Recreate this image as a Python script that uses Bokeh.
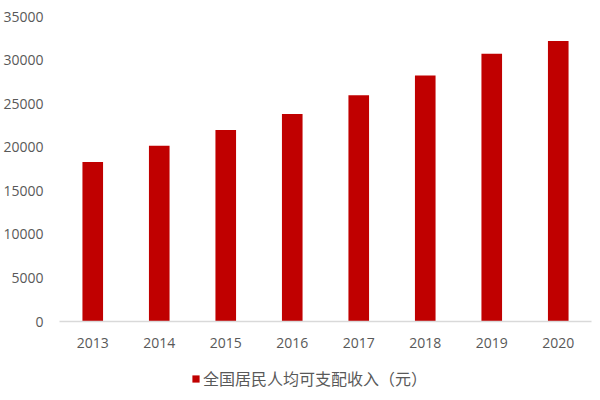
from bokeh.plotting import figure
from bokeh.layouts import column
from bokeh.models import ColumnDataSource, Legend, LegendItem, FixedTicker, Range1d, FactorRange
from bokeh.embed import file_html
from bokeh.resources import INLINE

years = ["2013", "2014", "2015", "2016", "2017", "2018", "2019", "2020"]
income = [18311, 20167, 21966, 23821, 25974, 28228, 30733, 32189]
series_name = "全国居民人均可支配收入（元）"
y_ticks = [0, 5000, 10000, 15000, 20000, 25000, 30000, 35000]

BAR = "#C00000"
TXT = "#595959"

src = ColumnDataSource(dict(year=years, income=income))

p = figure(width=592, height=360, x_range=FactorRange(*years, range_padding=0),
           y_range=Range1d(0, 35000), output_backend="svg", toolbar_location=None,
           min_border_left=55, min_border_right=1, min_border_top=16, min_border_bottom=39)
p.vbar(x="year", top="income", width=0.31, source=src, color=BAR, line_color=None)

p.xgrid.visible = False
p.ygrid.visible = False
p.outline_line_color = None

p.yaxis.ticker = FixedTicker(ticks=y_ticks)
p.yaxis.axis_line_color = None
p.yaxis.major_tick_line_color = None
p.yaxis.minor_tick_line_color = None
p.yaxis.major_label_standoff = 10
p.yaxis.major_label_text_font = "Open Sans"
p.yaxis.major_label_text_font_size = "14px"
p.yaxis.major_label_text_color = TXT

p.xaxis.axis_line_color = "#d9d9d9"
p.xaxis.axis_line_width = 1.5
p.xaxis.major_tick_line_color = None
p.xaxis.minor_tick_line_color = None
p.xaxis.major_label_standoff = 10
p.xaxis.major_label_text_font = "Open Sans"
p.xaxis.major_label_text_font_size = "14px"
p.xaxis.major_label_text_color = TXT

# legend strip below the chart
lg = figure(width=592, height=32, x_range=p.x_range, y_range=Range1d(100000, 200000),
            output_backend="svg", toolbar_location=None,
            x_axis_location=None, y_axis_location=None,
            min_border_left=0, min_border_right=0, min_border_top=0, min_border_bottom=0)
lg.xgrid.visible = False
lg.ygrid.visible = False
lg.outline_line_color = None
r = lg.vbar(x="year", top="income", width=0.31, source=src, color=BAR, line_color=None)

legend = Legend(items=[LegendItem(label=series_name, renderers=[r])],
                location=(132, 2), orientation="horizontal",
                label_text_font="Noto Sans CJK SC", label_text_font_size="16px",
                label_text_color=TXT, glyph_width=9, glyph_height=9,
                label_standoff=3, padding=0, margin=0, border_line_color=None,
                background_fill_alpha=0)
lg.add_layout(legend, "center")

open("out.html", "w").write(file_html(column(p, lg), INLINE))
